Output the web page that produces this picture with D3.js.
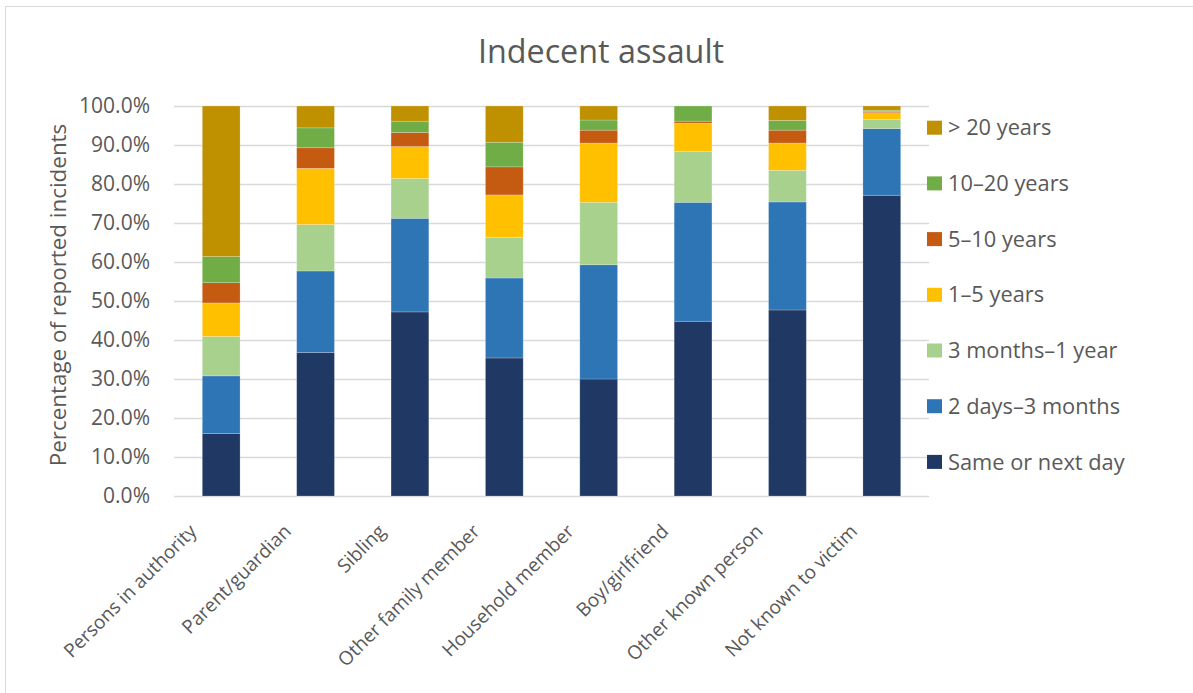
<!DOCTYPE html>
<html>
<head>
<meta charset="utf-8">
<script src="https://cdn.jsdelivr.net/npm/d3@7"></script>
<style>
  html, body { margin: 0; padding: 0; background: #fff; }
  svg { display: block; font-family: "Open Sans", "Noto Sans", sans-serif; }
</style>
</head>
<body>
<svg id="chart" width="1193" height="693"></svg>
<script>
const title = "Indecent assault";
const yAxisTitle = "Percentage of reported incidents";
const categories = ["Persons in authority", "Parent/guardian", "Sibling", "Other family member",
  "Household member", "Boy/girlfriend", "Other known person", "Not known to victim"];
const seriesNames = ["Same or next day", "2 days–3 months", "3 months–1 year", "1–5 years",
  "5–10 years", "10–20 years", "> 20 years"];
const sameOrNextDay   = [16.0, 36.8, 47.2, 35.4, 30.0, 44.8, 47.7, 77.1];
const days2to3Months  = [14.8, 20.9, 24.0, 20.5, 29.3, 30.5, 27.7, 17.1];
const months3to1Year  = [10.1, 11.9, 10.2, 10.4, 16.0, 13.1, 8.1, 2.4];
const years1to5       = [8.6, 14.4, 8.2, 10.9, 15.2, 7.2, 7.0, 1.7];
const years5to10      = [5.2, 5.3, 3.6, 7.2, 3.3, 0.5, 3.3, 0.3];
const years10to20     = [6.7, 5.1, 2.9, 6.3, 2.6, 3.9, 2.5, 0.3];
const over20Years     = [38.6, 5.6, 3.9, 9.3, 3.6, 0.0, 3.7, 1.1];
const yTicks = [0, 10, 20, 30, 40, 50, 60, 70, 80, 90, 100];
const colors = ["#203864", "#2E75B6", "#A9D18E", "#FFC000", "#C55A11", "#70AD47", "#BF9000"];

const seriesValues = [sameOrNextDay, days2to3Months, months3to1Year, years1to5, years5to10, years10to20, over20Years];
const table = categories.map((c, i) => {
  const row = { category: c };
  seriesNames.forEach((s, j) => row[s] = seriesValues[j][i]);
  return row;
});

const svg = d3.select("#chart");
const textColor = "#595959";
const gridColor = "#d9d9d9";
const fontStack = "'Open Sans', 'Noto Sans', sans-serif";

// chart border
svg.append("rect").attr("x", 5.5).attr("y", 6.5).attr("width", 1200).attr("height", 700)
  .attr("fill", "none").attr("stroke", gridColor).attr("stroke-width", 1);

const plot = { left: 174, right: 929, top: 106, bottom: 496 };

const x = d3.scaleBand().domain(categories).range([plot.left, plot.right]).paddingInner(0.6).paddingOuter(0.3);
const y = d3.scaleLinear().domain([0, 100]).range([plot.bottom, plot.top]);

// title
svg.append("text").attr("x", 601).attr("y", 63).attr("text-anchor", "middle")
  .attr("font-size", 32.3).attr("fill", textColor).text(title);

// gridlines + y tick labels
const yAxis = d3.axisLeft(y).tickValues(yTicks).tickSize(-(plot.right - plot.left))
  .tickFormat(d => d.toFixed(1) + "%").tickPadding(24);
const gy = svg.append("g").attr("transform", `translate(${plot.left},0)`).call(yAxis);
gy.select(".domain").remove();
gy.selectAll(".tick line").attr("stroke", gridColor).attr("stroke-width", 1.3);
gy.selectAll(".tick text").attr("fill", textColor).attr("font-size", 21)
  .attr("font-family", fontStack);

// bars
const stacked = d3.stack().keys(seriesNames)(table);
svg.append("g").selectAll("g").data(stacked).join("g")
  .attr("fill", (d, i) => colors[i])
  .selectAll("rect").data(d => d.map(v => ({ v, cat: v.data.category }))).join("rect")
  .attr("x", d => x(d.cat))
  .attr("width", x.bandwidth())
  .attr("y", d => y(d.v[1]))
  .attr("height", d => Math.max(0, y(d.v[0]) - y(d.v[1])))
  .attr("stroke", "#ffffff").attr("stroke-opacity", 0.25).attr("stroke-width", 0.8);

// x axis labels
const xAxis = d3.axisBottom(x).tickSize(0).tickPadding(0);
const gx = svg.append("g").attr("transform", `translate(0,${plot.bottom})`).call(xAxis);
gx.select(".domain").remove();
gx.selectAll(".tick text")
  .attr("fill", textColor).attr("font-size", 19)
  .attr("font-family", fontStack)
  .attr("text-anchor", "end")
  .attr("dy", null)
  .attr("transform", "translate(-27,33) rotate(-45)")
  .attr("y", 0).attr("x", 0)
  .attr("dominant-baseline", "middle");

// y axis title
svg.append("text").attr("transform", `translate(66,295) rotate(-90)`)
  .attr("text-anchor", "middle").attr("font-size", 22.4).attr("fill", textColor).text(yAxisTitle);

// legend (top to bottom: last series first)
const legendOrder = seriesNames.map((s, i) => ({ s, c: colors[i] })).reverse();
const lg = svg.append("g").selectAll("g").data(legendOrder).join("g")
  .attr("transform", (d, i) => `translate(927,${127.7 + i * 55.7})`);
lg.append("rect").attr("x", 0).attr("y", -7).attr("width", 15).attr("height", 14).attr("fill", d => d.c);
lg.append("text").attr("x", 21).attr("y", 0).attr("dy", "0.35em").attr("font-size", 21.8)
  .attr("fill", textColor).text(d => d.s);
</script>
</body>
</html>
